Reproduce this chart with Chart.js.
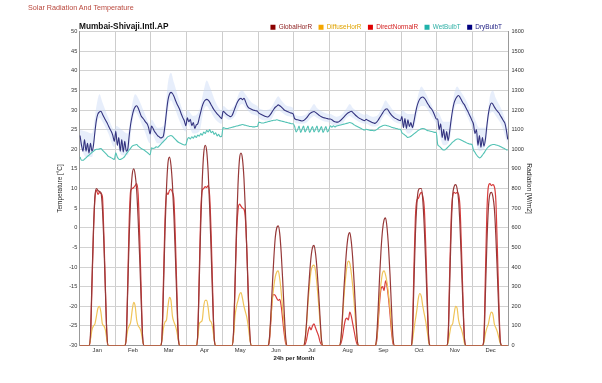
<!DOCTYPE html>
<html>
<head>
<meta charset="utf-8">
<title>Solar Radiation And Temperature</title>
<script src="https://cdn.jsdelivr.net/npm/chart.js@4.4.1/dist/chart.umd.min.js"></script>
<style>
  body { margin: 0; background: #fff; }
  #wrap { position: relative; width: 602px; height: 383px; font-family: "Liberation Sans", Arial, sans-serif; }
  #wrap canvas { position: absolute; left: 0; top: 0; }
  #pageTitle { position: absolute; left: 28px; top: 3px; font-size: 7.2px; color: #b9473c; }
  #stationName { position: absolute; left: 79px; top: 21px; font-size: 8.3px; line-height: 10px; font-weight: bold; color: #111; }
</style>
</head>
<body>
<div id="wrap">
  <canvas id="solarChart" width="602" height="383"></canvas>
  <div id="pageTitle">Solar Radiation And Temperature</div>
  <div id="stationName">Mumbai-Shivaji.Intl.AP</div>
</div>
<script>
// ---- data (one row of 24 hourly values per month) ----
const months = ["Jan", "Feb", "Mar", "Apr", "May", "Jun", "Jul", "Aug", "Sep", "Oct", "Nov", "Dec"];
const dayHours = [0, 1, 2, 3, 4, 5, 6, 7, 8, 9, 10, 11, 12, 13, 14, 15, 16, 17, 18, 19, 20, 21, 22, 23];
const bandHours = [0, 4, 8, 11, 13, 15, 19, 23];

// W/m2
const globalHorR = [
  [0,0,0,0,0,0,0, 60,330,590,760,800,790,785,780,700,520,280,60, 0,0,0,0,0],
  [0,0,0,0,0,0,0, 40,280,560,760,870,900,870,790,640,450,230,40, 0,0,0,0,0],
  [0,0,0,0,0,0,0, 40,290,580,800,930,960,920,820,660,450,220,30, 0,0,0,0,0],
  [0,0,0,0,0,0,0, 60,330,620,840,980,1020,990,880,700,470,230,40, 0,0,0,0,0],
  [0,0,0,0,0,0,0, 70,320,600,820,950,980,950,850,680,460,230,50, 0,0,0,0,0],
  [0,0,0,0,0,0,0, 30,150,300,440,550,600,610,570,470,330,170,40, 0,0,0,0,0],
  [0,0,0,0,0,0,0, 30,120,250,360,450,500,510,470,390,280,150,30, 0,0,0,0,0],
  [0,0,0,0,0,0,0, 30,140,280,400,500,560,575,530,440,310,160,30, 0,0,0,0,0],
  [0,0,0,0,0,0,0, 40,180,350,490,590,640,650,600,500,360,190,40, 0,0,0,0,0],
  [0,0,0,0,0,0,0, 50,300,560,720,790,800,800,740,600,410,200,30, 0,0,0,0,0],
  [0,0,0,0,0,0,0, 40,300,580,760,810,820,800,740,600,400,190,30, 0,0,0,0,0],
  [0,0,0,0,0,0,0, 30,260,520,700,770,780,760,700,560,370,170,20, 0,0,0,0,0]
];
const diffuseHorR = [
  [0,0,0,0,0,0,0, 30,80,100,110,150,190,200,170,110,100,80,30, 0,0,0,0,0],
  [0,0,0,0,0,0,0, 30,80,100,120,180,220,200,130,100,90,70,25, 0,0,0,0,0],
  [0,0,0,0,0,0,0, 30,90,120,130,200,245,230,150,120,100,70,25, 0,0,0,0,0],
  [0,0,0,0,0,0,0, 40,110,120,130,200,230,230,190,130,120,90,30, 0,0,0,0,0],
  [0,0,0,0,0,0,0, 50,150,200,230,260,270,240,200,170,140,90,30, 0,0,0,0,0],
  [0,0,0,0,0,0,0, 30,130,230,300,350,375,380,340,270,180,100,25, 0,0,0,0,0],
  [0,0,0,0,0,0,0, 30,110,220,310,380,405,410,380,310,220,120,25, 0,0,0,0,0],
  [0,0,0,0,0,0,0, 30,120,240,330,400,430,420,370,300,210,110,25, 0,0,0,0,0],
  [0,0,0,0,0,0,0, 30,130,250,320,370,380,360,320,260,190,100,25, 0,0,0,0,0],
  [0,0,0,0,0,0,0, 20,80,130,180,240,265,250,200,160,120,70,15, 0,0,0,0,0],
  [0,0,0,0,0,0,0, 15,60,100,110,160,200,190,130,100,80,50,10, 0,0,0,0,0],
  [0,0,0,0,0,0,0, 15,60,90,110,150,170,160,110,90,70,40,10, 0,0,0,0,0]
];
const directNormalR = [
  [0,0,0,0,0,0,0, 40,300,570,750,790,770,780,775,760,560,300,50, 0,0,0,0,0],
  [0,0,0,0,0,0,0, 40,320,640,790,800,805,815,825,770,560,290,40, 0,0,0,0,0],
  [0,0,0,0,0,0,0, 50,340,640,780,770,790,795,780,740,540,270,40, 0,0,0,0,0],
  [0,0,0,0,0,0,0, 60,370,680,790,800,810,805,815,760,560,280,40, 0,0,0,0,0],
  [0,0,0,0,0,0,0, 60,300,560,690,720,710,700,695,640,470,240,40, 0,0,0,0,0],
  [0,0,0,0,0,0,0, 20,120,240,260,255,240,230,235,200,130,60,10, 0,0,0,0,0],
  [0,0,0,0,0,0,0, 5,30,70,95,80,100,110,90,70,50,20,5, 0,0,0,0,0],
  [0,0,0,0,0,0,0, 10,40,90,130,140,130,170,150,110,70,30,5, 0,0,0,0,0],
  [0,0,0,0,0,0,0, 20,110,220,290,300,280,330,300,240,160,70,10, 0,0,0,0,0],
  [0,0,0,0,0,0,0, 60,380,650,740,750,770,780,760,700,500,250,30, 0,0,0,0,0],
  [0,0,0,0,0,0,0, 50,360,640,760,780,775,780,770,700,480,230,30, 0,0,0,0,0],
  [0,0,0,0,0,0,0, 40,360,680,810,825,815,820,810,740,500,230,20, 0,0,0,0,0]
];

// deg C
const wetBulbT = [
  [18,17.2,17.2,17.5,17.8,18.2,18.5,18.8,19.2,19.5,19.8,20,20,20.1,20.2,19.8,19.4,19,18.6,18.2,18,17.8,17.6,17.4],
  [19.1,18,17.5,17.4,17.6,17.8,18.2,18.8,19.3,19.8,20.3,20.8,21,21.1,21.2,20.8,20.5,20.2,20,19.8,19.5,19.2,18.9,18.6],
  [20.4,20.2,20.3,20.6,20.5,20.8,21.2,21.6,22,22.4,22.8,23.2,23.4,23.5,23.3,22.9,22.5,22.1,21.8,21.6,21.4,21.2,21.1,21.2],
  [22.5,23,22.6,23.2,22.8,23.4,23,23.6,23.3,24,23.6,24.4,24,24.8,24.4,25,24.2,24.6,23.8,24.2,23.4,23.8,23.2,23.3],
  [25.5,25.4,25.3,25.3,25.4,25.5,25.6,25.7,25.8,25.9,26,26.1,26.2,26.3,26.2,26.1,26,25.9,25.8,25.8,25.7,25.7,25.8,25.8],
  [26.9,26.8,26.7,26.7,26.8,26.9,27,27.1,27.2,27.3,27.4,27.4,27.5,27.4,27.3,27.2,27.1,27,26.9,26.8,26.7,26.6,26.5,26.5],
  [25.8,24.4,25,25.9,24.3,25.1,25.9,24.4,25.1,25.9,24.3,25,25.8,24.4,25.1,25.9,24.4,25,25.8,24.3,25,25.8,24.4,25],
  [26,25.6,26,25.7,25.9,26,26.1,26.2,26.3,26.4,26.5,26.6,26.7,26.8,26.7,26.5,26.2,26,25.8,25.6,25.4,25.2,25,24.9],
  [25.1,25,24.9,24.8,24.8,24.7,24.8,25,25.3,25.6,25.8,26,26.1,26.1,26,25.9,25.8,25.6,25.5,25.4,25.3,25.2,25.1,25.1],
  [24.2,23.9,23.6,23.3,23,23.1,23.3,23.6,23.9,24.2,24.5,24.8,25,25.2,25.3,25.2,25,24.8,24.7,24.6,24.5,24.4,24.3,24.3],
  [21.2,20.8,20.4,20,19.8,19.9,20.2,20.6,21,21.4,21.8,22.1,22.4,22.6,22.6,22.5,22.3,22.1,21.9,21.7,21.5,21.4,21.3,21.2],
  [19.8,19.2,18.6,18.1,17.8,18,18.5,19,19.6,20.2,20.6,20.9,21.1,21.2,21.2,21.1,21,20.9,20.7,20.5,20.3,20.1,19.9,19.8]
];
const dryBulbT = [
  [23.5,21,19.5,22.5,19.5,21.5,19,21.5,19.5,21,24.5,27.5,29,29.5,29.7,29,28.2,27.5,26.8,26,25.2,24.5,23.5,22],
  [24.6,21,23,19.5,22.5,19.3,22,19.5,20,23.5,26.5,28.5,30,30.8,31.1,30.5,29.5,28.5,28,27.5,26.9,26.5,25.5,23.9],
  [25.9,25.3,24.5,24,23.5,23.2,22.9,23,23.5,26,29.5,32.5,34,34.5,34.2,33.5,32.5,31.6,30.8,30,28.9,28,27.2,26],
  [28,27,27.6,26,26.8,25.3,26.2,26.5,28,29.5,31,32,32.5,32.7,32.5,32,31.3,30.6,30,29.5,29,28.6,28.2,27.8],
  [29.7,29.4,29,28.7,28.5,28.3,28.6,29.5,30.5,31.5,32.3,32.8,33,32.6,33,32.2,31.2,30.6,30.4,30.2,30,29.9,29.8,29.7],
  [29.2,29,28.8,28.6,28.4,28.3,28.2,28.5,29,29.6,30.2,30.7,31,31.3,31.1,30.8,30.4,30,29.8,29.6,29.5,29.3,29.2,29],
  [27.8,27.6,27.5,27.4,27.3,27.2,27.3,27.6,28,28.5,29,29.3,29.5,29.6,29.4,29.1,28.8,28.5,28.3,28.1,28,27.9,27.8,27.7],
  [27.7,27.5,27.2,27,26.9,26.9,27.1,27.4,27.8,28.2,28.6,29,29.3,29.5,29.7,29.4,29,28.6,28.3,28,27.8,27.6,27.4,27.3],
  [27.6,27.4,27.2,27,26.8,26.7,26.6,26.9,27.4,28,28.6,29.2,29.8,30.2,30.3,29.8,29.2,28.7,28.3,28,27.8,27.6,27.4,27.3],
  [28.3,25.5,27.8,25.3,27.5,25.8,26.8,25.5,27,29,30.8,32,32.8,33.2,33.3,33,32.5,31.8,31.2,30.6,30.2,29.5,28.6,27.7],
  [27.7,25,26.5,23,25,22.3,24.5,22.2,24.5,27.5,30,31.8,32.8,33.4,33.7,33.2,32.5,31.8,31.3,30.5,29.8,29,28.2,27.3],
  [26.4,24,25,21,23.5,20.5,23,20.8,22.5,26,29,31,31.8,31.5,30.8,30.2,29.7,29.3,28.6,28,27.3,26.7,25,22.5]
];
// dry bulb spread (shaded band), sampled at bandHours
const dryBulbMax = [
  [25,24.5,24,31,34,32,28,25],
  [26,25,24,31.5,34,33,29.5,26.5],
  [27.5,25.5,26,37,39.5,37,32,28.5],
  [30,28.5,30,35,37.5,36,32,30],
  [31,30,31.5,34.5,35,34,32,31],
  [30.5,30,30.5,32.5,33.5,32.5,31,30.5],
  [29,28.5,29,30.5,31.5,30.5,29.5,29],
  [29,28.3,29,30.5,31.5,30.5,29.5,28.8],
  [29,28.3,28.8,31,32.5,31.5,29.5,28.8],
  [30,29,29,34,36,35,32,29.5],
  [29.5,27,27,34,36,35,32.5,29],
  [28.5,25.5,25.5,33.5,35,33,30,25.5]
];
const dryBulbMin = [
  [21,18,18,26,28,27,24,20.5],
  [22,18.5,18.5,26.5,29.5,28.5,25,21.5],
  [24,21.5,21.5,30,32.5,31,27,24.5],
  [26.5,24,24.5,30,31,30,27.5,26.5],
  [28.5,27.5,28.5,31,31.5,30.5,29,28.5],
  [28,27.3,27.5,29.5,30,29.5,28.5,28],
  [26.8,26.5,26.8,28,28.5,28,27.2,26.8],
  [26.5,26,26.5,28,28.5,28,27,26.5],
  [26.5,25.8,26,28,29,28.5,27,26.5],
  [26.5,24,25.5,30,31,31,29,26.5],
  [25.5,21,22.5,30,31.5,31.5,29,25.5],
  [24.5,19.5,21,29,29.5,28.5,26,21]
];

const legendText = ["#8b1a1a", "#e0a300", "#d42020", "#2fb0a6", "#1a1a80"];

Chart.defaults.animation = false;
Chart.defaults.font.family = '"Liberation Sans", Arial, sans-serif';

// month m, hour h  ->  x = m*24 + h + 0.5 on the "24h per Month" axis
function monthPoints(rows, hours) {
  const pts = [];
  rows.forEach((row, m) => {
    row.forEach((v, i) => pts.push({ x: m * 24 + hours[i] + 0.5, y: v }));
  });
  return pts;
}

function series(label, rows, axis, line, box, width) {
  return {
    label: label,
    data: monthPoints(rows, dayHours),
    yAxisID: axis,
    borderColor: line,
    backgroundColor: box,
    borderWidth: width,
    pointRadius: 0,
    cubicInterpolationMode: "monotone",
    fill: false
  };
}

// tighten the gap under the legend
const legendGap = {
  id: "legendGap",
  beforeInit(chart) {
    const fit = chart.legend.fit;
    chart.legend.fit = function () {
      fit.call(this);
      this.height = 14;
    };
  }
};

new Chart(document.getElementById("solarChart"), {
  type: "line",
  data: {
    datasets: [
      series("GlobalHorR", globalHorR, "yRad", "#963838", "#8b0000", 1.2),
      series("DiffuseHorR", diffuseHorR, "yRad", "#f0c458", "#f5a700", 1.2),
      series("DirectNormalR", directNormalR, "yRad", "#d73c3c", "#e00000", 1.2),
      series("WetBulbT", wetBulbT, "yTemp", "#52c2b4", "#20b2aa", 1.1),
      series("DryBulbT", dryBulbT, "yTemp", "#33337f", "#000080", 1.1),
      {
        label: "DryBulbT max",
        data: monthPoints(dryBulbMax, bandHours),
        yAxisID: "yTemp",
        borderWidth: 0,
        borderColor: "rgba(0,0,0,0)",
        pointRadius: 0,
        cubicInterpolationMode: "monotone",
        fill: false
      },
      {
        label: "DryBulbT min",
        data: monthPoints(dryBulbMin, bandHours),
        yAxisID: "yTemp",
        borderWidth: 0,
        borderColor: "rgba(0,0,0,0)",
        backgroundColor: "rgba(195, 213, 245, 0.4)",
        pointRadius: 0,
        cubicInterpolationMode: "monotone",
        fill: "-1"
      }
    ]
  },
  options: {
    responsive: false,
    animation: false,
    layout: { padding: { left: 56.6, right: 69.1, top: 17.5, bottom: 21.5 } },
    plugins: {
      tooltip: { enabled: false },
      legend: {
        position: "top",
        align: "end",
        fullSize: false,
        labels: {
          boxWidth: 5,
          boxHeight: 5,
          padding: 6.5,
          font: { size: 6.4 },
          filter: item => item.datasetIndex < 5,
          generateLabels(chart) {
            const items = Chart.defaults.plugins.legend.labels.generateLabels(chart);
            items.forEach(it => {
              it.fontColor = legendText[it.datasetIndex];
              it.strokeStyle = it.fillStyle;
              it.lineWidth = 0;
            });
            return items;
          }
        }
      }
    },
    scales: {
      x: {
        type: "linear",
        min: 0,
        max: 288,
        ticks: {
          stepSize: 12,
          autoSkip: false,
          maxRotation: 0,
          padding: 1.5,
          color: "#333",
          font: { size: 5.8 },
          callback: v => (v % 24 === 12 ? months[(v - 12) / 24] : "")
        },
        grid: {
          color: c => (c.tick && c.tick.value % 24 === 0 ? "#cdcdcd" : "rgba(0,0,0,0)"),
          drawTicks: false
        },
        border: { color: "#999" },
        title: { display: true, text: "24h per Month", color: "#222", font: { size: 6, weight: "bold" }, padding: 0 },
        afterFit: s => { s.height = 16; }
      },
      yTemp: {
        position: "left",
        min: -30,
        max: 50,
        ticks: { stepSize: 5, padding: 2, color: "#333", font: { size: 5.6 }, callback: v => String(v) },
        grid: { color: "#d2d2d2", drawTicks: false },
        border: { color: "#999" },
        title: { display: true, text: "Temperature [°C]", color: "#222", font: { size: 6.4 }, padding: 0 },
        afterFit: s => { s.width = 22.7; }
      },
      yRad: {
        position: "right",
        min: 0,
        max: 1600,
        ticks: { stepSize: 100, padding: 3, color: "#333", font: { size: 5.6 }, callback: v => String(v) },
        grid: { drawOnChartArea: false, drawTicks: false },
        border: { color: "#999" },
        title: { display: true, text: "Radiation [W/m2]", color: "#222", font: { size: 6.6 }, padding: 0 },
        afterFit: s => { s.width = 24.4; }
      }
    }
  },
  plugins: [legendGap]
});
</script>
</body>
</html>
